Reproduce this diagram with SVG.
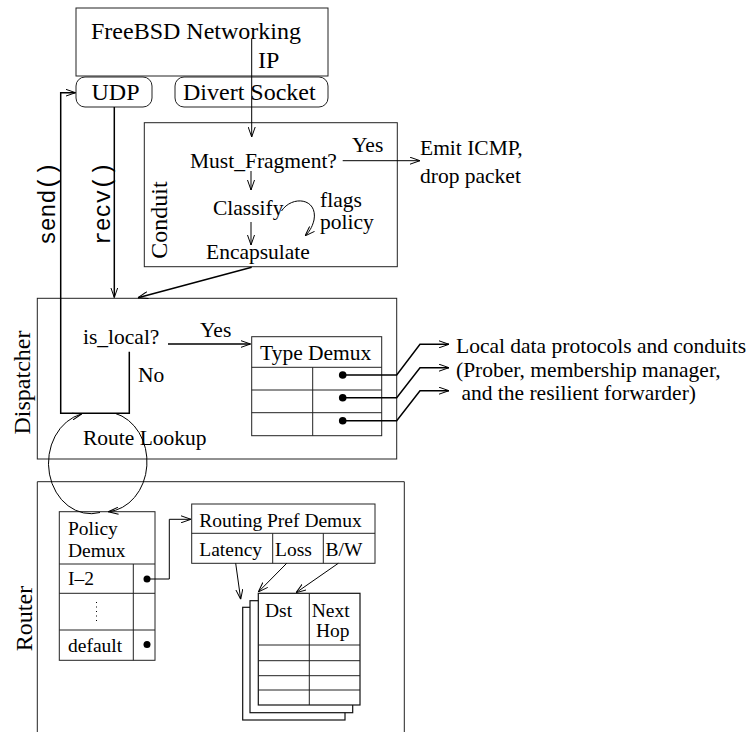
<svg xmlns="http://www.w3.org/2000/svg" width="749" height="732" viewBox="0 0 749 732">
<style>
text{font-family:"Liberation Serif","Times New Roman",serif;fill:#000}
.big{font-size:24px}
.mid{font-size:21.5px}
.sm{font-size:19.5px}
.mono{font-family:"Liberation Mono","Courier New",monospace;font-size:23px}
.box{fill:none;stroke:#222;stroke-width:1}
.wbox{fill:#fff;stroke:#111;stroke-width:1.2}
.ln{fill:none;stroke:#000;stroke-width:1}
.th{fill:none;stroke:#000;stroke-width:1.5}
</style>
<defs>
<marker id="arr" viewBox="0 0 10 8" refX="10" refY="4" markerWidth="10" markerHeight="8" markerUnits="userSpaceOnUse" orient="auto">
<path d="M0,0.5 L10,4 L0,7.5" fill="none" stroke="#000" stroke-width="1"/>
</marker>
</defs>
<rect width="749" height="732" fill="#fff"/>

<g id="freebsd">
<rect class="box" x="76" y="8" width="252" height="68"/>
<text class="big" x="91" y="39">FreeBSD Networking</text>
<text class="big" x="258" y="68">IP</text>
</g>
<g id="udp">
<rect class="box" x="76" y="77" width="76" height="30" rx="9"/>
<text class="big" x="91.5" y="100">UDP</text>
</g>
<g id="divert">
<rect class="box" x="175" y="77" width="153" height="30" rx="9"/>
<text class="big" x="183" y="100">Divert Socket</text>
</g>

<g id="send-recv-labels">
<text class="mono" transform="translate(55,245) rotate(-90)">send()</text>
<text class="mono" transform="translate(110,245) rotate(-90)">recv()</text>
</g>

<g id="conduit">
<rect class="box" x="144.3" y="122.7" width="253" height="144"/>
<text class="big" transform="translate(167,220) rotate(-90)" text-anchor="middle">Conduit</text>
<text class="mid" x="190" y="168">Must_Fragment?</text>
<text class="mid" x="213" y="215">Classify</text>
<text class="mid" x="206" y="259">Encapsulate</text>
<text class="mid" x="320" y="207">flags</text>
<text class="mid" x="320" y="229">policy</text>
<text class="mid" x="352" y="152">Yes</text>
</g>

<g id="emit">
<text class="mid" x="420" y="155">Emit ICMP,</text>
<text class="mid" x="420" y="183">drop packet</text>
</g>

<g id="dispatcher">
<rect class="box" x="37.3" y="298.3" width="359.4" height="160.7"/>
<text class="big" transform="translate(29.5,382.5) rotate(-90)" text-anchor="middle">Dispatcher</text>
<text class="mid" x="83" y="344">is_local?</text>
<text class="mid" x="200" y="336.5">Yes</text>
<text class="mid" x="138" y="381.5">No</text>
<text class="mid" x="83" y="445">Route Lookup</text>
</g>

<g id="type-demux">
<rect class="box" x="251.7" y="336.7" width="130" height="99"/>
<line class="box" x1="251.7" y1="367.3" x2="381.7" y2="367.3"/>
<line class="box" x1="251.7" y1="390" x2="381.7" y2="390"/>
<line class="box" x1="251.7" y1="412.7" x2="381.7" y2="412.7"/>
<line class="box" x1="312.7" y1="367.3" x2="312.7" y2="435.7"/>
<text class="mid" x="260" y="360">Type Demux</text>
<circle cx="342.7" cy="375" r="3.8"/>
<circle cx="342.7" cy="397.7" r="3.8"/>
<circle cx="342.7" cy="420.7" r="3.8"/>
</g>

<g id="local-text">
<text class="mid" x="456" y="353">Local data protocols and conduits</text>
<text class="mid" x="456" y="376.5">(Prober, membership manager,</text>
<text class="mid" x="456" y="400" xml:space="preserve"> and the resilient forwarder)</text>
</g>

<g id="router">
<path class="box" d="M37.3,732 V481.7 H404.3 V732"/>
<text class="big" transform="translate(31.5,618.5) rotate(-90)" text-anchor="middle">Router</text>
</g>

<g id="policy-demux">
<rect class="box" x="59.3" y="511.7" width="95.7" height="148.6"/>
<line class="box" x1="59.3" y1="564" x2="155" y2="564"/>
<line class="box" x1="59.3" y1="593.3" x2="155" y2="593.3"/>
<line class="box" x1="59.3" y1="630" x2="155" y2="630"/>
<line class="box" x1="133.3" y1="564" x2="133.3" y2="660.3"/>
<text class="sm" x="68" y="535">Policy</text>
<text class="sm" x="68" y="557">Demux</text>
<text class="sm" x="68" y="585">I–2</text>
<text class="sm" x="68" y="651.5">default</text>
<line x1="96.5" y1="602" x2="96.5" y2="622" stroke="#000" stroke-width="1" stroke-dasharray="1,3.5"/>
<circle cx="147" cy="579" r="3.5"/>
<circle cx="147" cy="644.5" r="3.5"/>
</g>

<g id="routing-pref-demux">
<rect class="box" x="191.7" y="504" width="183.3" height="59.3"/>
<line class="box" x1="191.7" y1="533.3" x2="375" y2="533.3"/>
<line class="box" x1="272.7" y1="533.3" x2="272.7" y2="563.3"/>
<line class="box" x1="323.3" y1="533.3" x2="323.3" y2="563.3"/>
<text class="sm" x="199.3" y="527">Routing Pref Demux</text>
<text class="sm" x="199.3" y="556">Latency</text>
<text class="sm" x="275" y="556">Loss</text>
<text class="sm" x="325.5" y="556">B/W</text>
</g>

<g id="route-tables">
<rect class="wbox" x="242.7" y="607.3" width="102.3" height="112.7"/>
<rect class="wbox" x="250" y="600.7" width="102.7" height="112"/>
<rect class="wbox" x="258.3" y="593.3" width="101.7" height="111.7"/>
<line class="box" x1="309.3" y1="593.3" x2="309.3" y2="705"/>
<line class="box" x1="258.3" y1="645" x2="360" y2="645"/>
<line class="box" x1="258.3" y1="660.7" x2="360" y2="660.7"/>
<line class="box" x1="258.3" y1="675.7" x2="360" y2="675.7"/>
<line class="box" x1="258.3" y1="690" x2="360" y2="690"/>
<text class="sm" x="265" y="617">Dst</text>
<text class="sm" x="311.7" y="617">Next</text>
<text class="sm" x="316" y="637">Hop</text>
</g>

<g id="connectors">
<line class="ln" x1="251.7" y1="39" x2="251.7" y2="137" marker-end="url(#arr)"/>
<line class="ln" x1="251" y1="171" x2="251" y2="190" marker-end="url(#arr)"/>
<line class="ln" x1="251" y1="222" x2="251" y2="245" marker-end="url(#arr)"/>
<path class="ln" d="M281.5,211 C292,195 318,198 314,220 C312,228 309,232 305,236" marker-end="url(#arr)"/>
<line class="ln" x1="342.7" y1="160.7" x2="420" y2="160.7" marker-end="url(#arr)"/>
<line class="th" x1="251.7" y1="267.3" x2="138" y2="297.7" marker-end="url(#arr)"/>
<line class="th" x1="114.3" y1="107" x2="114.3" y2="297.5" marker-end="url(#arr)"/>
<path class="th" d="M129.3,351.7 V413.3 H60.7 V92.7 H75.5" marker-end="url(#arr)"/>
<line class="th" x1="168" y1="344" x2="250.5" y2="344" marker-end="url(#arr)"/>
<path class="th" d="M342.7,375 H396.7 L420,344.3 H449" marker-end="url(#arr)"/>
<path class="th" d="M342.7,397.7 H396.7 L420,367.7 H449" marker-end="url(#arr)"/>
<path class="th" d="M342.7,420.7 H396.7 L420,390.7 H449" marker-end="url(#arr)"/>
<path class="ln" d="M115,413.3 A42,50 0 0 1 108.3,511.7" marker-end="url(#arr)"/>
<path class="ln" d="M100,512.5 A42,50 0 0 1 81.7,414" marker-end="url(#arr)"/>
<path class="ln" d="M147,579 H169.3 V519.3 H191" marker-end="url(#arr)"/>
<line class="ln" x1="235.7" y1="563.3" x2="240.7" y2="599.3" marker-end="url(#arr)"/>
<line class="ln" x1="286.7" y1="563.3" x2="258.3" y2="592" marker-end="url(#arr)"/>
<line class="ln" x1="338.3" y1="563.3" x2="296" y2="592.7" marker-end="url(#arr)"/>
</g>
</svg>
